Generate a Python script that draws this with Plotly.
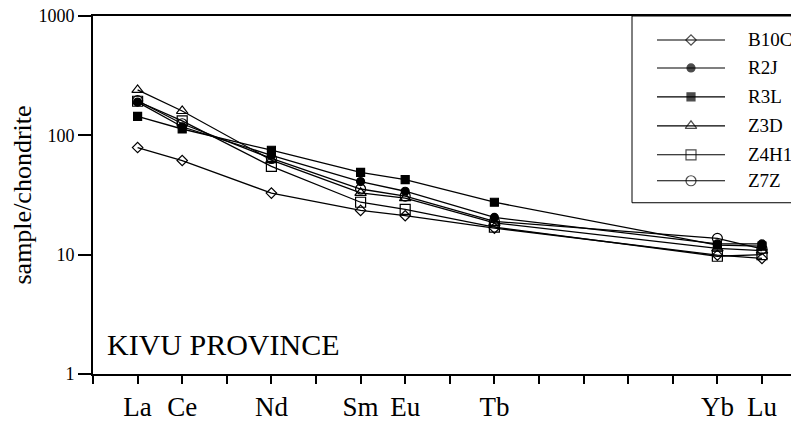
import plotly.graph_objects as go

elements = ["La", "Ce", "Nd", "Sm", "Eu", "Tb", "Yb", "Lu"]
atomic_numbers = [57, 58, 60, 62, 63, 65, 70, 71]

B10C = [79, 61.5, 32.8, 23.5, 21.2, 16.7, 9.9, 9.3]
R2J = [190, 118, 68, 41, 34, 20.5, 12.3, 12.3]
R3L = [144, 113, 75, 49, 42.5, 27.5, 12.0, 11.8]
Z3D = [240, 160, 62, 33, 29.8, 18.5, 11.3, 10.8]
Z4H1 = [193, 132, 55, 27.5, 24, 17.0, 9.7, 10.0]
Z7Z = [195, 125, 64, 35.5, 31, 19.0, 13.7, 11.2]

series = [
    ("B10C", B10C, "diamond-open", 8),
    ("R2J", R2J, "circle", 8),
    ("R3L", R3L, "square", 8),
    ("Z3D", Z3D, "triangle-up-open", 10),
    ("Z4H1", Z4H1, "square-open", 10),
    ("Z7Z", Z7Z, "circle-open", 10),
]

all_ticks = list(range(56, 72))
tick_text = [elements[atomic_numbers.index(t)] if t in atomic_numbers else "" for t in all_ticks]

SERIF = "Liberation Serif"

# page offset (default body margin of the html page)
OFF = 8
PAGE_W, PAGE_H = 799, 423
W, H = PAGE_W - OFF, PAGE_H - OFF
# plot area in page pixels
PL, PR, PT, PB = 93, 799, 16, 374.5
ml, mr, mt, mb = PL - OFF, PAGE_W - PR, PT - OFF, PAGE_H - PB
PW, PH = PR - PL, PB - PT

def px_x(p):
    return (p - PL) / PW

def px_y(p):
    return (PB - p) / PH

fig = go.Figure()
for name, vals, sym, sz in series:
    fig.add_trace(go.Scatter(
        x=atomic_numbers, y=vals, name=name, mode="lines+markers",
        line=dict(color="black", width=1.3),
        marker=dict(symbol=sym, size=sz, color="black",
                    line=dict(color="black", width=1.2)),
        showlegend=False,
    ))

# custom legend (keys drawn on an overlay axis in page-pixel units)
leg_y = [40, 68, 97, 126, 155, 181]
annotations = []
for (name, vals, sym, sz), ly in zip(series, leg_y):
    fig.add_trace(go.Scatter(
        x=[657, 691, 725], y=[ly, ly, ly], mode="lines+markers",
        xaxis="x2", yaxis="y2", showlegend=False, hoverinfo="skip",
        line=dict(color="black", width=1.1),
        marker=dict(symbol=sym, size=[0, sz, 0], color="black",
                    line=dict(color="black", width=1.2)),
    ))
    annotations.append(dict(
        text=name, xref="paper", yref="paper", x=px_x(746), y=px_y(ly),
        xanchor="left", yanchor="middle", showarrow=False,
        font=dict(family=SERIF, size=19, color="black"),
    ))

annotations.append(dict(
    text="KIVU PROVINCE", xref="paper", yref="paper",
    x=px_x(105), y=px_y(345),
    xanchor="left", yanchor="middle", showarrow=False,
    font=dict(family=SERIF, size=30, color="black"),
))

fig.update_layout(
    width=W, height=H,
    margin=dict(l=ml, r=mr, t=mt, b=mb, pad=0),
    paper_bgcolor="white", plot_bgcolor="white",
    font=dict(family=SERIF, color="black"),
    showlegend=False,
    xaxis=dict(
        range=[56, 71.83], tickmode="array", tickvals=all_ticks, ticktext=tick_text,
        ticks="outside", ticklen=8, tickwidth=1.5, tickcolor="black",
        showline=True, linecolor="black", linewidth=2, mirror=True,
        showgrid=False, zeroline=False, automargin=False,
        ticklabeloverflow="allow",
        tickfont=dict(family=SERIF, size=27, color="black"),
    ),
    yaxis=dict(
        type="log", range=[0, 3], tickmode="array",
        tickvals=[1, 10, 100, 1000], ticktext=["1", "10", "100", "1000"],
        ticks="outside", ticklen=13, tickwidth=1.5, tickcolor="black",
        showline=True, linecolor="black", linewidth=2,
        showgrid=False, zeroline=False, automargin=False,
        ticklabeloverflow="allow",
        tickfont=dict(family=SERIF, size=18, color="black"),
        title=dict(text="sample/chondrite", font=dict(family=SERIF, size=26, color="black"), standoff=22),
    ),
    xaxis2=dict(range=[PL, PR], overlaying="x", visible=False, fixedrange=True),
    yaxis2=dict(range=[PB, PT], overlaying="y", visible=False, fixedrange=True),
    shapes=[dict(
        type="rect", xref="paper", yref="paper",
        x0=px_x(632), x1=1.2, y0=px_y(203), y1=1.0,
        line=dict(color="black", width=1), fillcolor="rgba(0,0,0,0)",
    )],
    annotations=annotations,
)

fig.write_html("out.html")
